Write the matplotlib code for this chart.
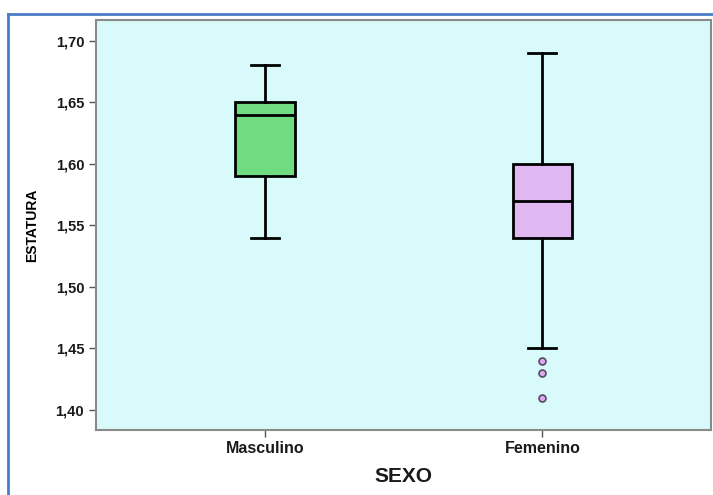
import matplotlib.pyplot as plt
from matplotlib.lines import Line2D

plt.rcParams['font.family'] = ['Liberation Sans', 'DejaVu Sans']

# Estatura por sexo (resumen de cinco números + atípicos)
grupos = ['Masculino', 'Femenino']
minimos = [1.54, 1.45]
q1 = [1.59, 1.54]
medianas = [1.64, 1.57]
q3 = [1.65, 1.60]
maximos = [1.68, 1.69]
atipicos = [[], [1.44, 1.43, 1.41]]
colores = ['#6fdc82', '#e0b8f2']

stats = []
for i, g in enumerate(grupos):
    stats.append({'label': g, 'whislo': minimos[i], 'q1': q1[i],
                  'med': medianas[i], 'q3': q3[i], 'whishi': maximos[i],
                  'fliers': atipicos[i]})

fig = plt.figure(figsize=(7.13, 4.95), dpi=100)
ax = fig.add_axes([0.1346, 0.1313, 0.8624, 0.8283])
ax.set_facecolor('#d9fafa')

bp = ax.bxp(stats, positions=[1, 2], widths=0.215, patch_artist=True,
            boxprops=dict(edgecolor='black', linewidth=2),
            medianprops=dict(color='black', linewidth=2),
            whiskerprops=dict(color='black', linewidth=2),
            capprops=dict(color='black', linewidth=2),
            capwidths=0.1,
            flierprops=dict(marker='o', markersize=5, markerfacecolor='#e0a8f0',
                            markeredgecolor='#505060', markeredgewidth=1.2))
for patch, c in zip(bp['boxes'], colores):
    patch.set_facecolor(c)

ax.set_xlim(0.392, 2.607)
ax.set_ylim(1.3838, 1.7168)
ax.set_yticks([1.40, 1.45, 1.50, 1.55, 1.60, 1.65, 1.70])
ax.set_yticklabels(['1,40', '1,45', '1,50', '1,55', '1,60', '1,65', '1,70'],
                   fontsize=10.5, fontweight='bold', color='#1a1a1a')
ax.set_xticks([1, 2])
ax.set_xticklabels(grupos, fontsize=11.5, fontweight='bold', color='#1a1a1a')
ax.tick_params(axis='both', length=5, width=1, color='#555555')
ax.tick_params(axis='x', pad=3)

for s in ax.spines.values():
    s.set_color('#8a8a8a')
    s.set_linewidth(1.5)

ax.set_ylabel('ESTATURA', fontsize=10, fontweight='bold', labelpad=12)
fig.text(403 / 713, 1 - 477 / 495, 'SEXO', fontsize=15, fontweight='bold',
         ha='center', va='center', color='#1a1a1a')

# marco azul alrededor del gráfico
azul = '#4a7cc8'
fig.add_artist(Line2D([8 / 713, 1.0], [1 - 14 / 495, 1 - 14 / 495],
                      color=azul, linewidth=2, transform=fig.transFigure))
fig.add_artist(Line2D([8 / 713, 8 / 713], [0, 1 - 14 / 495],
                      color=azul, linewidth=2, transform=fig.transFigure))

fig.savefig('out.png', dpi=100)
